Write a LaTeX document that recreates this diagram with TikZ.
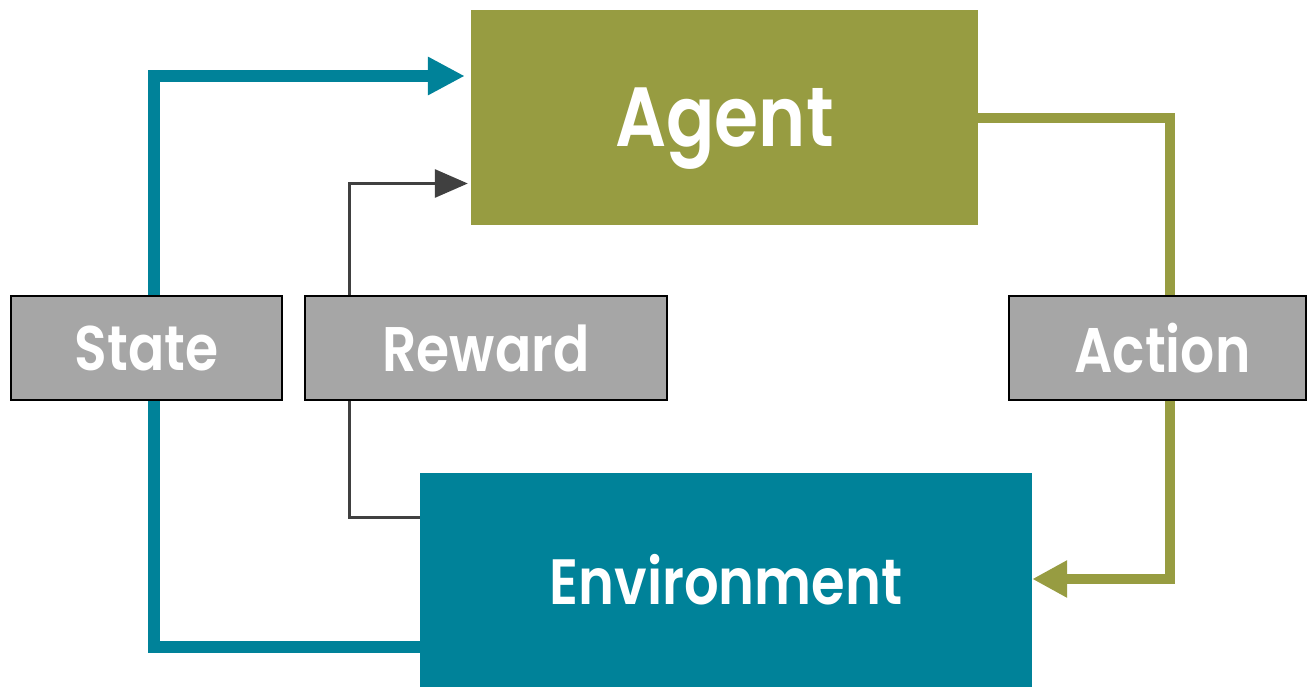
\documentclass[tikz,border=0pt]{standalone}
\usepackage{fontspec}
\newfontfamily\labelfont{Poppins SemiBold}[FakeStretch=0.85]
\usetikzlibrary{arrows.meta,backgrounds}
\definecolor{olive}{HTML}{979C41}
\definecolor{tealc}{HTML}{008299}
\definecolor{grayc}{HTML}{A6A6A6}
\definecolor{darkline}{HTML}{404040}
\tikzset{
  bigbox/.style={inner sep=0pt, text=white, font=\labelfont\fontsize{84}{90}\selectfont},
  labelbox/.style={draw=black, line width=2pt, fill=grayc, inner sep=0pt, minimum height=104pt, text=white, font=\labelfont\fontsize{63}{70}\selectfont},
  stateline/.style={draw=tealc, line width=12pt, -{Triangle[length=37pt,width=36pt]}},
  rewardline/.style={draw=darkline, line width=3pt, -{Triangle[length=33pt,width=28pt]}},
  actionline/.style={draw=olive, line width=10pt, -{Triangle[length=35pt,width=35pt]}},
}
\begin{document}
\begin{tikzpicture}[x=1pt,y=-1pt]
\useasboundingbox (0,0) rectangle (1308,687);
\node[bigbox, fill=olive, minimum width=507pt, minimum height=215pt, text depth=0pt] (agent) at (724.5,117.5) {Agent};
\node[bigbox, fill=tealc, minimum width=612pt, minimum height=214pt, font=\labelfont\fontsize{64}{70}\selectfont] (env) at (726,580) {Environment};
\node[labelbox, minimum width=271pt] (state) at (146.5,348) {State};
\node[labelbox, minimum width=362pt] (reward) at (486,348) {Reward};
\node[labelbox, minimum width=297pt] (action) at (1157.5,348) {\hspace*{10pt}Action};
\begin{pgfonlayer}{background}
\fill[white] (0,0) rectangle (1308,687);
\draw[stateline] (env.west |- 0,647) -- (154,647) -- (154,76) -- ([xshift=-6pt]agent.west |- 0,76);
\draw[rewardline] (env.west |- 0,517.5) -- (349.5,517.5) -- (349.5,183.5) -- ([xshift=-3pt]agent.west |- 0,183.5);
\draw[actionline] (agent.east |- 0,118) -- (1170,118) -- (1170,579) -- (env.east |- 0,579);
\end{pgfonlayer}
\end{tikzpicture}
\end{document}
